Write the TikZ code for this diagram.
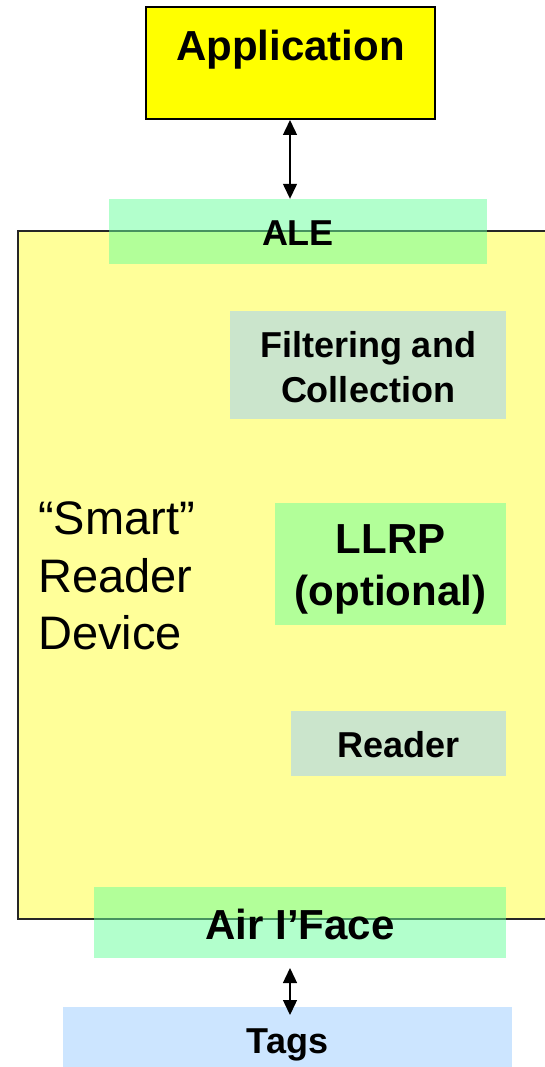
\documentclass[tikz,border=0pt]{standalone}
\usepackage{fontspec}
\setmainfont{Liberation Sans}
\usetikzlibrary{arrows.meta}
\definecolor{devyellow}{HTML}{FFFF99}
\definecolor{appyellow}{HTML}{FFFF00}
\definecolor{layergreen}{HTML}{66FF99}
\definecolor{layerblue}{HTML}{99CCFF}
\begin{document}
\begin{tikzpicture}[x=1pt,y=-1pt,
  layer/.style={draw=none,fill opacity=0.5,inner sep=0pt,rectangle},
  bigbold/.style={font=\fontsize{42}{50}\selectfont\bfseries,anchor=base,inner sep=0pt},
  midbold/.style={font=\fontsize{36}{43}\selectfont\bfseries,anchor=base,inner sep=0pt},
  devlabel/.style={font=\fontsize{47}{56}\selectfont,anchor=base west,inner sep=0pt},
  dblarrow/.style={line width=1.4pt,{Triangle[width=14pt,length=15pt]}-{Triangle[width=14pt,length=15pt]}}]
\useasboundingbox (0,0) rectangle (545,1067);
\clip (0,0) rectangle (545,1067);

% application box
\node[draw=black,line width=1.5pt,fill=appyellow,inner sep=0pt,
      minimum width=289pt,minimum height=112pt] (app) at (290.5,63) {};
\node[bigbold] (apptext) at (290.5,61) {Application};

% smart reader device body (runs past the right edge)
\node[draw=black!85,line width=1.2pt,fill=devyellow,inner sep=0pt,
      minimum width=542pt,minimum height=688pt] (dev) at (289,575) {};

% layers
\node[layer,fill=layergreen,minimum width=378pt,minimum height=65pt] (ale) at (298,231.5) {};
\node[midbold] (aletext) at (298,246) {ALE};

\node[layer,fill=layerblue,minimum width=276pt,minimum height=108pt] (filt) at (368,365) {};
\node[midbold] (filt1) at (368,357) {Filtering and};
\node[midbold] (filt2) at (368,402) {Collection};

\node[layer,fill=layergreen,minimum width=231pt,minimum height=122pt] (llrp) at (390.5,564) {};
\node[bigbold] (llrp1) at (390.5,553) {LLRP};
\node[bigbold] (llrp2) at (390.5,605) {(optional)};

\node[layer,fill=layerblue,minimum width=215pt,minimum height=65pt] (rdr) at (398.5,743.5) {};
\node[midbold] (rdrtext) at (398.5,757) {Reader};

\node[layer,fill=layergreen,minimum width=412pt,minimum height=71pt] (air) at (300,922.5) {};
\node[bigbold] (airtext) at (300,939) {Air I’Face};

\node[layer,fill=layerblue,minimum width=449pt,minimum height=62pt] (tags) at (287.5,1038) {};
\node[midbold] (tagstext) at (287.5,1053) {Tags};

% device caption
\node[devlabel] (dv1) at (38,534) {“Smart”};
\node[devlabel] (dv2) at (38,592) {Reader};
\node[devlabel] (dv3) at (38,649) {Device};

% connectors
\coordinate (ap) at (290,120);
\draw[dblarrow] (ap) -- (ap |- ale.north);
\coordinate (at) at (290,968);
\coordinate (tt) at (290,1015);
\draw[dblarrow] (at) -- (tt);
\end{tikzpicture}
\end{document}
